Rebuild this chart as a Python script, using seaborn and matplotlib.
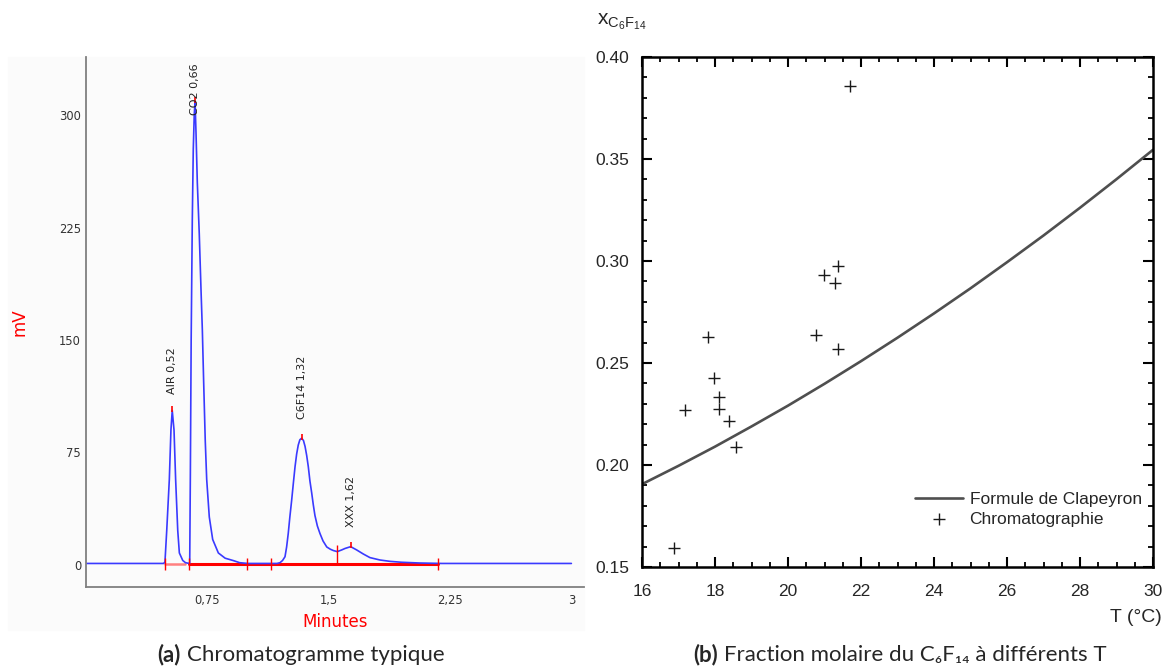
import matplotlib
matplotlib.use("Agg")
import numpy as np
import pandas as pd
import matplotlib.pyplot as plt
from matplotlib.patches import Rectangle
import seaborn as sns

# ============================================================
# Données (a) : chromatogramme
# ============================================================
t_min = [0.0, 0.48, 0.488, 0.499, 0.515, 0.525, 0.533, 0.544, 0.554, 0.567,
         0.577, 0.598, 0.615, 0.638, 0.641, 0.645, 0.650, 0.657, 0.663, 0.669,
         0.674, 0.680, 0.688, 0.700, 0.711, 0.719, 0.727, 0.737, 0.746, 0.762,
         0.783, 0.818, 0.860, 0.911, 0.950, 1.000, 1.180, 1.199, 1.215, 1.230,
         1.240, 1.250, 1.260, 1.271, 1.282, 1.292, 1.302, 1.312, 1.322, 1.333,
         1.344, 1.354, 1.364, 1.374, 1.384, 1.395, 1.405, 1.415, 1.430, 1.446,
         1.465, 1.488, 1.510, 1.529, 1.553, 1.580, 1.601, 1.636, 1.673, 1.714,
         1.755, 1.817, 1.879, 1.950, 2.060, 2.200, 3.000]
signal_mv = [1.0, 1.0, 2.0, 23.0, 57.0, 90.0, 103.0, 90.0, 57.0, 23.0,
             8.0, 3.0, 1.5, 1.0, 1.0, 60.0, 150.0, 230.0, 277.0, 300.0,
             309.0, 288.0, 255.0, 221.0, 183.0, 157.0, 123.0, 83.0, 57.0, 32.0,
             17.0, 8.0, 4.5, 2.9, 1.5, 1.0, 1.0, 1.5, 3.0, 5.5,
             12.0, 21.0, 32.0, 43.0, 55.0, 65.5, 74.0, 80.0, 83.5, 84.5,
             83.0, 79.0, 73.0, 65.5, 56.0, 48.0, 40.0, 33.0, 26.0, 21.0,
             16.0, 12.0, 10.5, 9.6, 8.9, 10.0, 11.0, 12.2, 10.0, 7.3,
             4.9, 3.3, 2.4, 1.8, 1.3, 1.0, 1.0]

# bornes d'intégration et sommets des pics (marques rouges)
integ_marks = [0.488, 0.639, 0.993, 1.141, 2.174]
drop_line_t = 1.553
apex_t = [0.533, 0.674, 1.333, 1.636]
apex_mv = [103.0, 309.0, 84.5, 12.2]
peak_names = ["AIR 0,52", "CO2 0,66", "C6F14 1,32", "XXX 1,62"]
label_mv = [114.0, 300.0, 97.0, 25.0]

xticks_a = [0.75, 1.5, 2.25, 3.0]
xtick_labels_a = ["0,75", "1,5", "2,25", "3"]
yticks_a = [0, 75, 150, 225, 300]

# ============================================================
# Données (b) : fraction molaire
# ============================================================
T_clap = [16, 17, 18, 19, 20, 21, 22, 23, 24, 25, 26, 27, 28, 29, 30]
x_clap = [0.1906, 0.1996, 0.2090, 0.2189, 0.2291, 0.2398, 0.2509, 0.2624,
          0.2743, 0.2866, 0.2994, 0.3125, 0.3261, 0.3401, 0.3545]

T_chrom = [21.69, 21.38, 20.98, 21.29, 17.80, 20.78, 21.38, 17.97, 18.10,
           18.10, 17.19, 18.39, 18.57, 16.88]
x_chrom = [0.3858, 0.2975, 0.2930, 0.2894, 0.2629, 0.2637, 0.2567, 0.2428,
           0.2334, 0.2273, 0.2270, 0.2216, 0.2090, 0.1592]

yticks_b = [0.15, 0.20, 0.25, 0.30, 0.35, 0.40]
ytick_labels_b = ["0.15", "0.20", "0.25", "0.30", "0.35", "0.40"]

# ============================================================
# Figure
# ============================================================
sns.set_theme(style="white")
plt.rcParams["font.family"] = ["DejaVu Sans"]

W, H = 1167, 668
fig = plt.figure(figsize=(W / 100, H / 100), dpi=100)


def box(l, t, r, b):
    return [l / W, 1 - b / H, (r - l) / W, (b - t) / H]


# fond très légèrement gris du logiciel d'acquisition
fig.patches.append(Rectangle((8 / W, 1 - 630 / H), 576 / W, 573 / H,
                             transform=fig.transFigure, color="#fbfbfb", zorder=-10))

# ---------------- (a) chromatogramme ----------------
ax1 = fig.add_axes(box(86, 57, 584, 587))
ax1.set_facecolor("#fbfbfb")
df_a = pd.DataFrame({"t": t_min, "mV": signal_mv})

# ligne de base intégrée (rouge)
ax1.plot([integ_marks[0], 0.61], [0.6, 0.6], color="#ff8080", lw=1.8, zorder=1)
ax1.plot([integ_marks[1], integ_marks[-1]], [0.6, 0.6], color="#ff0000", lw=2.2, zorder=1)
sns.lineplot(data=df_a, x="t", y="mV", ax=ax1, color="#3a3aff", lw=1.2,
             estimator=None, sort=False, zorder=2)
ax1.vlines(integ_marks, -3.5, 4.5, color="#ff0000", lw=1.0, zorder=3)
ax1.vlines([drop_line_t], 0.6, 13.5, color="#ff0000", lw=1.0, zorder=3)
ax1.vlines(apex_t, np.array(apex_mv) - 1, np.array(apex_mv) + 3,
           color="#ff0000", lw=1.2, zorder=3)

for t, y, name in zip(apex_t, label_mv, peak_names):
    ax1.text(t, y, name, rotation=90, ha="center", va="bottom",
             fontsize=8, color="#222222")

ax1.set_xlim(0, 3.078)
ax1.set_ylim(-14.7, 338.7)
ax1.set_xticks(xticks_a)
ax1.set_xticklabels(xtick_labels_a)
ax1.set_yticks(yticks_a)
ax1.tick_params(length=0, labelsize=8.3, labelcolor="#333333")
ax1.tick_params(axis="y", pad=3.5)
ax1.tick_params(axis="x", pad=5)
ax1.set_xlabel("")
ax1.set_ylabel("")
for side in ["top", "right"]:
    ax1.spines[side].set_visible(False)
for side in ["left", "bottom"]:
    ax1.spines[side].set_color("#808080")
    ax1.spines[side].set_linewidth(1.3)

fig.text(20 / W, 1 - 322 / H, "mV", rotation=90, ha="center", va="center",
         color="#ff0000", fontsize=12)
fig.text(335 / W, 1 - 622 / H, "Minutes", ha="center", va="center",
         color="#ff0000", fontsize=12)

# ---------------- (b) fraction molaire ----------------
ax2 = fig.add_axes(box(642, 57, 1153, 567))
df_clap = pd.DataFrame({"T": T_clap, "x": x_clap})
df_chrom = pd.DataFrame({"T": T_chrom, "x": x_chrom})
sns.lineplot(data=df_clap, x="T", y="x", ax=ax2, color="#4f4f4f", lw=1.9,
             label="Formule de Clapeyron")
sns.scatterplot(data=df_chrom, x="T", y="x", ax=ax2, marker="+", s=70,
                color="#1a1a1a", linewidth=1.0, label="Chromatographie")

ax2.set_xlim(16, 30)
ax2.set_ylim(0.15, 0.40)
ax2.set_xticks(np.arange(16, 31, 2))
ax2.set_xticks(np.arange(16, 30.01, 0.5), minor=True)
ax2.set_yticks(yticks_b)
ax2.set_yticks(np.arange(0.15, 0.4001, 0.01), minor=True)
ax2.set_yticklabels(ytick_labels_b)
ax2.set_xlabel("")
ax2.set_ylabel("")
ax2.tick_params(which="both", direction="in", top=True, right=True,
                bottom=True, left=True, color="black")
ax2.tick_params(which="major", length=7, width=1.5, labelsize=12.5,
                labelfontfamily="Liberation Sans")
ax2.tick_params(which="minor", length=3.8, width=1.3)
ax2.tick_params(axis="y", which="major", pad=9)
ax2.tick_params(axis="x", which="major", pad=12.5)
for side in ax2.spines.values():
    side.set_color("black")
    side.set_linewidth(1.8)

ax2.legend(loc="center left", bbox_to_anchor=(0.534, 0.113), frameon=False,
           borderpad=0, borderaxespad=0, handlelength=2.8, handletextpad=0.35,
           labelspacing=0.25, prop={"family": "Liberation Sans", "size": 12.5})

fig.text(597 / W, 1 - 24 / H, r"$\mathregular{x_{C_6F_{14}}}$", ha="left",
         va="baseline", fontsize=15, family="Liberation Sans")
fig.text(1162 / W, 1 - 617 / H, "T (°C)", ha="right", va="center",
         fontsize=14, family="Liberation Sans")

# ---------------- légendes des sous-figures ----------------
cap = ["Lato", "DejaVu Sans"]
renderer = fig.canvas.get_renderer()


def caption(tag, rest, center_px, y_px, size=16):
    a = fig.text(0, 1 - y_px / H, tag, ha="left", va="center", fontsize=size,
                 weight="bold", family=cap)
    b = fig.text(0, 1 - y_px / H, rest, ha="left", va="center", fontsize=size,
                 family=cap)
    wa = a.get_window_extent(renderer).width
    wb = b.get_window_extent(renderer).width
    gap = 0.3 * size * 100 / 72
    x0 = center_px - (wa + gap + wb) / 2
    a.set_x(x0 / W)
    b.set_x((x0 + wa + gap) / W)


caption("(a)", "Chromatogramme typique", 301, 655)
caption("(b)", "Fraction molaire du C₆F₁₄ à différents T", 900, 655)

fig.savefig("out.png", dpi=100)
